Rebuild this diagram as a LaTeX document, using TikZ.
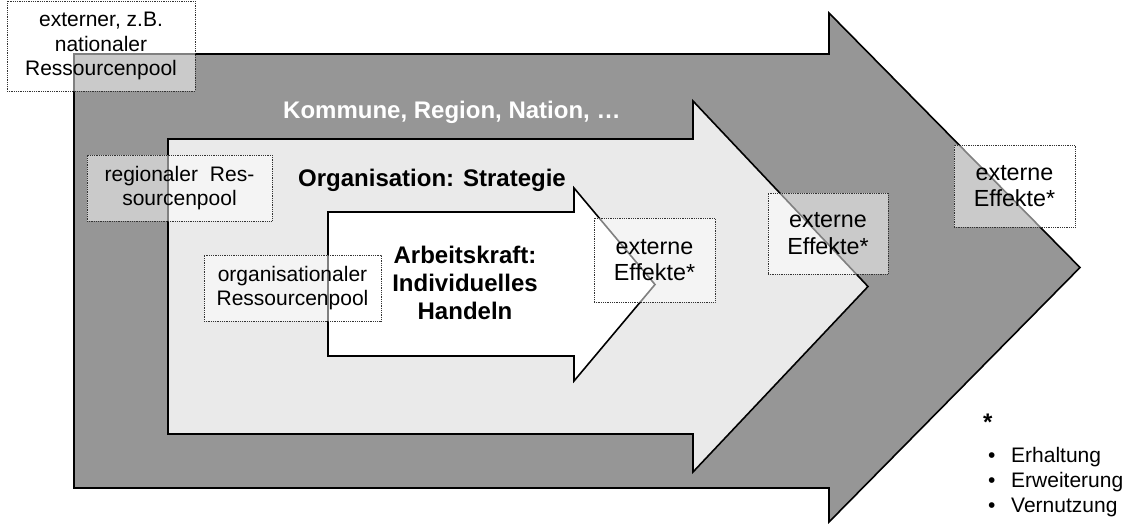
\documentclass[tikz,border=0pt]{standalone}
\usepackage{fontspec}
\setmainfont{Liberation Sans}
\usepackage{xcolor}
\definecolor{aussen}{gray}{0.59}
\definecolor{mitte}{gray}{0.918}

\begin{document}
\begin{tikzpicture}[x=1pt, y=-1pt,
 pool/.style={draw=black!80, densely dotted, line width=.8pt, fill=white, fill opacity=.5, text opacity=1, inner sep=0, align=center, font=\fontsize{21}{24.5}\selectfont},
 effekt/.style={pool, font=\fontsize{23.3}{26.5}\selectfont},
 titel/.style={font=\bfseries\fontsize{24}{28}\selectfont, inner sep=0}]
\useasboundingbox (0,0) rectangle (1127,528);
% Pfeile: links/oben/unten/Kopf/Kopf oben/Kopf unten/Spitze/Farbe
\foreach \xl/\yo/\yu/\xk/\yko/\yku/\xs/\fa in {74/54/488/829/13/522/1080/aussen, 168/139/434/693/101/472/868/mitte, 328/212/356/574/188/381/655/white} {
 \filldraw[fill=\fa, draw=black, line width=1.6pt] (\xl,\yo) -- (\xk,\yo) -- (\xk,\yko) -- (\xs,{(\yko+\yku)/2}) -- (\xk,\yku) -- (\xk,\yu) -- (\xl,\yu) -- cycle;
}
\node[titel, text=white, anchor=base west] (kommune) at (283,118) {Kommune, Region, Nation, …};
\node[titel, anchor=base west] (organisation) at (298,186) {Organisation: Strategie};
\node[titel, align=center] (arbeitskraft) at (465,283) {Arbeitskraft:\\Individuelles\\Handeln};
% Ressourcenpools
\node[pool, minimum width=188, minimum height=90] (national) at (101,46) {externer, z.B.\\nationaler\\Ressourcenpool};
\node[pool, minimum width=185, minimum height=66] (regional) at (179.5,188) {regionaler\hspace{12pt}Res-\\sourcenpool};
\node[pool, minimum width=177, minimum height=66] (organisational) at (292.5,288) {organisationaler\\Ressourcenpool};
% externe Effekte
\foreach \n/\x/\y/\w/\h in {effekt1/654.5/260/121/84, effekt2/828/233.5/120/81, effekt3/1014.5/186/121/82} {
 \node[effekt, minimum width=\w, minimum height=\h] (\n) at (\x,\y) {externe\\Effekte*};
}
% Legende
\node[titel, anchor=base west] (stern) at (983,430) {*};
\foreach \w [count=\i] in {Erhaltung, Erweiterung, Vernutzung} {
 \node[anchor=base west, inner sep=0, font=\fontsize{21}{25}\selectfont] (punkt\i) at (988,{437+25*\i}) {\makebox[23pt][l]{\textbullet}\w};
}
\end{tikzpicture}
\end{document}
